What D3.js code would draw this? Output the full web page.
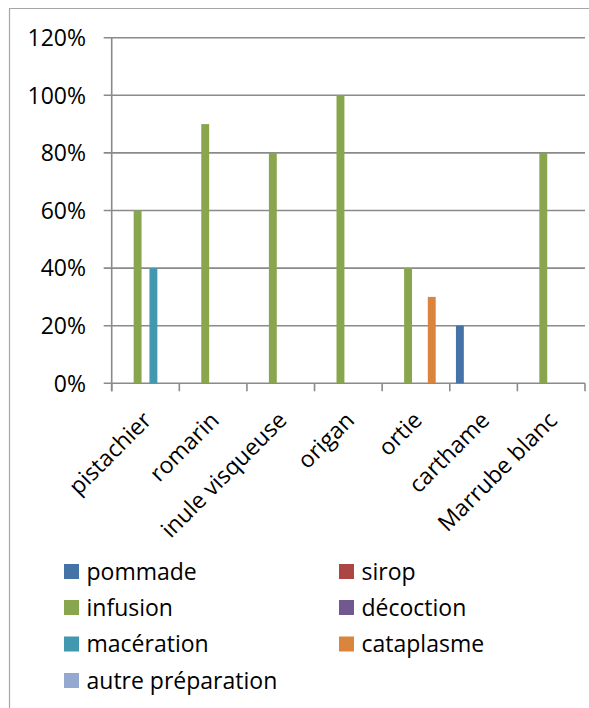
<!DOCTYPE html>
<html>
<head>
<meta charset="utf-8">
<script src="https://cdn.jsdelivr.net/npm/d3@7"></script>
<style>
  html, body { margin: 0; padding: 0; background: #fff; }
  svg { display: block; }
  text { font-family: "Open Sans", "Liberation Sans", sans-serif; fill: #000; }
</style>
</head>
<body>
<svg id="chart" width="589" height="708"></svg>
<script>
// Plants and preparation modes
const categories = ["pistachier", "romarin", "inule visqueuse", "origan", "ortie", "carthame", "Marrube blanc"];
const seriesNames = ["pommade", "sirop", "infusion", "décoction", "macération", "cataplasme", "autre préparation"];
const seriesColors = ["#4572a7", "#aa4643", "#89a54e", "#71588f", "#4198af", "#db843d", "#93a9cf"];

// Share of each preparation per plant (fraction), one array per series
const pommade    = [0, 0, 0, 0, 0, 0.2, 0];
const sirop      = [0, 0, 0, 0, 0, 0, 0];
const infusion   = [0.6, 0.9, 0.8, 1.0, 0.4, 0, 0.8];
const decoction  = [0, 0, 0, 0, 0, 0, 0];
const maceration = [0.4, 0, 0, 0, 0, 0, 0];
const cataplasme = [0, 0, 0, 0, 0.3, 0, 0];
const autre      = [0, 0, 0, 0, 0, 0, 0];
const seriesValues = [pommade, sirop, infusion, decoction, maceration, cataplasme, autre];

const yTicks = [0, 0.2, 0.4, 0.6, 0.8, 1.0, 1.2];

const svg = d3.select("#chart");

// Outer frame (top and left edges visible)
svg.append("line").attr("x1", 9).attr("x2", 589).attr("y1", 8.5).attr("y2", 8.5)
  .attr("stroke", "#a6a6a6").attr("stroke-width", 1.2);
svg.append("line").attr("x1", 9.5).attr("x2", 9.5).attr("y1", 8).attr("y2", 708)
  .attr("stroke", "#a6a6a6").attr("stroke-width", 1.2);

const plot = { left: 111.7, right: 585, top: 37.7, bottom: 383.3 };

const x0 = d3.scaleBand().domain(categories).range([plot.left, plot.right]).paddingInner(0).paddingOuter(0);
const x1 = d3.scaleBand().domain(seriesNames).range([0, x0.bandwidth()]).paddingInner(0).paddingOuter(0.78);
const y = d3.scaleLinear().domain([0, 1.2]).range([plot.bottom, plot.top]);

// Gridlines
svg.append("g").selectAll("line").data(yTicks).join("line")
  .attr("x1", plot.left - 8).attr("x2", plot.right)
  .attr("y1", d => y(d)).attr("y2", d => y(d))
  .attr("stroke", "#8a8a8a").attr("stroke-width", 1.6);

// Y tick labels
svg.append("g").selectAll("text").data(yTicks).join("text")
  .attr("x", 86).attr("y", d => y(d)).attr("dy", "0.36em")
  .attr("text-anchor", "end").attr("font-size", 23)
  .text(d => d3.format(".0%")(d));

// Bars
const bars = [];
seriesNames.forEach((s, si) => {
  categories.forEach((c, ci) => {
    const v = seriesValues[si][ci];
    if (v > 0) bars.push({ s, c, v, color: seriesColors[si] });
  });
});
svg.append("g").selectAll("rect").data(bars).join("rect")
  .attr("x", d => x0(d.c) + x1(d.s))
  .attr("width", x1.bandwidth())
  .attr("y", d => y(d.v))
  .attr("height", d => y(0) - y(d.v))
  .attr("fill", d => d.color);

// Y axis line
svg.append("line").attr("x1", plot.left).attr("x2", plot.left)
  .attr("y1", plot.top).attr("y2", plot.bottom + 8)
  .attr("stroke", "#8a8a8a").attr("stroke-width", 1.6);

// X axis ticks at category boundaries
const bounds = categories.map(c => x0(c)).concat([plot.right]);
svg.append("g").selectAll("line").data(bounds).join("line")
  .attr("x1", d => d).attr("x2", d => d)
  .attr("y1", plot.bottom).attr("y2", plot.bottom + 8)
  .attr("stroke", "#8a8a8a").attr("stroke-width", 1.6);

// Rotated category labels
svg.append("g").selectAll("text").data(categories).join("text")
  .attr("transform", d => `translate(${x0(d) + x0.bandwidth() / 2 - 4},${plot.bottom + 27}) rotate(-45)`)
  .attr("text-anchor", "end").attr("dy", "0.7em")
  .attr("font-size", 23)
  .text(d => d);

// Legend
const legendCols = [64, 339];
const legendRows = [571.5, 607.5, 644, 680.5];
const legend = svg.append("g").selectAll("g").data(seriesNames).join("g")
  .attr("transform", (d, i) => `translate(${legendCols[i % 2]},${legendRows[Math.floor(i / 2)]})`);
legend.append("rect").attr("x", 0).attr("y", -7.5).attr("width", 15).attr("height", 15)
  .attr("fill", (d, i) => seriesColors[i]);
legend.append("text").attr("x", 22.5).attr("y", 0).attr("dy", "0.36em")
  .attr("font-size", 23).text(d => d);
</script>
</body>
</html>
